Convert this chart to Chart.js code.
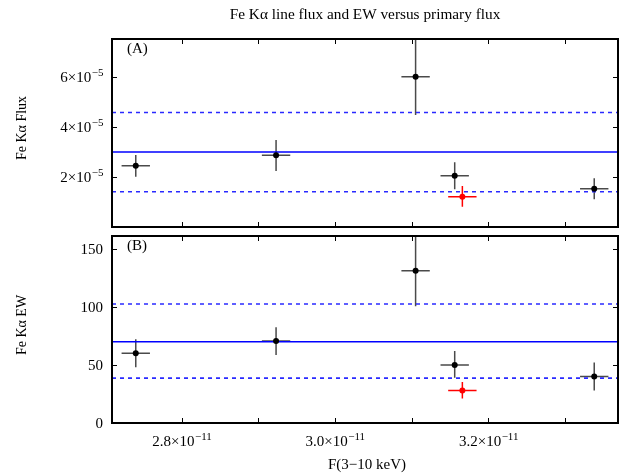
<!DOCTYPE html>
<html><head><meta charset="utf-8">
<script src="https://cdn.jsdelivr.net/npm/chart.js@4"></script>
<style>
html,body{margin:0;padding:0;background:#fff;}
#wrap{position:relative;width:633px;height:476px;overflow:hidden;}
canvas{position:absolute;left:0;}
</style>
</head><body>
<div id="wrap">
<canvas id="c1" width="633" height="232" style="top:0"></canvas>
<canvas id="c2" width="633" height="244" style="top:232px"></canvas>
</div>
<script>
// ---- data ----
const xVals   = [2.740e-11, 2.923e-11, 3.105e-11, 3.156e-11, 3.338e-11];
const xErr    = [0.0185e-11, 0.0185e-11, 0.0185e-11, 0.0185e-11, 0.0185e-11];
const fluxVals = [2.45e-5, 2.87e-5, 6.01e-5, 2.05e-5, 1.53e-5];
const fluxLow  = [2.01e-5, 2.24e-5, 4.48e-5, 1.51e-5, 1.11e-5];
const fluxHigh = [2.88e-5, 3.48e-5, 7.54e-5, 2.59e-5, 1.95e-5];
const ewVals  = [60, 70.5, 131, 50, 40];
const ewLow   = [48, 58.5, 100.5, 39, 28];
const ewHigh  = [72, 82.5, 161.5, 62, 52];
const redX     = [3.166e-11];
const redXErr  = [0.0185e-11];
const redFlux  = [1.21e-5];
const redFluxLow  = [0.81e-5];
const redFluxHigh = [1.64e-5];
const redEw    = [28];
const redEwLow = [21];
const redEwHigh= [35.2];
const fluxMean = 3.0e-5;
const fluxBand = [1.41e-5, 4.58e-5];
const ewMean = 70;
const ewBand = [38.6, 102.5];
const xRange = [2.709e-11, 3.369e-11];
const xTicks = [2.8e-11, 2.9e-11, 3.0e-11, 3.1e-11, 3.2e-11, 3.3e-11];
const xTickLabels = [[2.8e-11, '2.8', '\u221211'], [3.0e-11, '3.0', '\u221211'], [3.2e-11, '3.2', '\u221211']];
const fluxTicks = [2e-5, 4e-5, 6e-5];
const fluxTickLabels = [[2e-5, '2', '\u22125'], [4e-5, '4', '\u22125'], [6e-5, '6', '\u22125']];
const ewTicks = [0, 50, 100, 150];
const ewTickLabels = [[0, '0'], [50, '50'], [100, '100'], [150, '150']];

const SERIF = '"Liberation Serif", "DejaVu Serif", serif';
const MAINF = '15px ' + SERIF;
const EXPF = '11px ' + SERIF;

function drawSci(ctx, mant, exp, x, y, align) {
  // y = vertical centre of main text
  ctx.font = MAINF;
  const main = exp ? mant + '\u00d710' : mant;
  const w1 = ctx.measureText(main).width;
  let w2 = 0;
  if (exp) { ctx.font = EXPF; w2 = ctx.measureText(exp).width; }
  const tot = w1 + w2;
  let sx = align === 'right' ? x - tot : x - tot / 2;
  ctx.textAlign = 'left';
  ctx.textBaseline = 'alphabetic';
  ctx.font = MAINF;
  ctx.fillText(main, sx, y + 5);
  if (exp) { ctx.font = EXPF; ctx.fillText(exp, sx + w1 + 0.5, y - 1.5); }
}

function lineDs(v, dashed) {
  return {
    data: [{x: xRange[0], y: v}, {x: xRange[1], y: v}],
    showLine: true, borderColor: dashed ? '#2a2aff' : '#0000ff', borderWidth: dashed ? 1.6 : 1.4,
    borderDash: dashed ? [4, 4] : [], pointRadius: 0, order: 3
  };
}

function errPlugin(sets) {
  return {
    id: 'err',
    beforeDatasetsDraw(chart) {
      const {ctx, chartArea: a, scales: {x, y}} = chart;
      ctx.save();
      ctx.beginPath(); ctx.rect(a.left, a.top, a.right - a.left, a.bottom - a.top); ctx.clip();
      sets.forEach(s => {
        ctx.strokeStyle = s.color; ctx.lineWidth = 1.5;
        s.x.forEach((xv, i) => {
          const px = x.getPixelForValue(xv), py = y.getPixelForValue(s.y[i]);
          ctx.beginPath();
          ctx.moveTo(x.getPixelForValue(xv - s.xe[i]), py);
          ctx.lineTo(x.getPixelForValue(xv + s.xe[i]), py);
          ctx.moveTo(px, y.getPixelForValue(s.lo[i]));
          ctx.lineTo(px, y.getPixelForValue(s.hi[i]));
          ctx.stroke();
        });
      });
      ctx.restore();
    }
  };
}

function framePlugin(cfg) {
  return {
    id: 'frame',
    afterDatasetsDraw(chart) {
      const {ctx, chartArea: a, scales: {x, y}} = chart;
      ctx.save();
      ctx.strokeStyle = '#000'; ctx.lineWidth = 1;
      const tl = 5;
      ctx.beginPath();
      xTicks.forEach(v => {
        const px = Math.round(x.getPixelForValue(v)) + 0.5;
        ctx.moveTo(px, a.bottom); ctx.lineTo(px, a.bottom - tl);
        ctx.moveTo(px, a.top); ctx.lineTo(px, a.top + tl);
      });
      cfg.yTicks.forEach(v => {
        const py = Math.round(y.getPixelForValue(v)) + 0.5;
        ctx.moveTo(a.left, py); ctx.lineTo(a.left + tl, py);
        ctx.moveTo(a.right, py); ctx.lineTo(a.right - tl, py);
      });
      ctx.stroke();
      ctx.lineWidth = 2;
      ctx.strokeRect(a.left, a.top, a.right - a.left, a.bottom - a.top);
      ctx.fillStyle = '#000';
      cfg.yLabels.forEach(t => drawSci(ctx, t[1], t[2], a.left - 9, y.getPixelForValue(t[0]), 'right'));
      if (cfg.xLabels) cfg.xLabels.forEach(t => drawSci(ctx, t[1], t[2], x.getPixelForValue(t[0]), a.bottom + 18, 'center'));
      ctx.font = '15px ' + SERIF; ctx.textAlign = 'left'; ctx.textBaseline = 'middle';
      ctx.fillText(cfg.panel, a.left + 15, a.top + 10);
      // axis titles
      ctx.font = '14px ' + SERIF; ctx.textAlign = 'center'; ctx.textBaseline = 'middle';
      ctx.save(); ctx.translate(22, cfg.yTitleY); ctx.rotate(-Math.PI / 2);
      ctx.fillText(cfg.yTitle, 0, 0); ctx.restore();
      if (cfg.title) { ctx.font = '15.3px ' + SERIF; ctx.textBaseline = 'alphabetic'; ctx.fillText(cfg.title, (a.left + a.right) / 2, 19); }
      if (cfg.xTitle) { ctx.font = '15px ' + SERIF; ctx.textBaseline = 'alphabetic'; ctx.fillText(cfg.xTitle, (a.left + a.right) / 2 + 2, a.bottom + 46); }
      ctx.restore();
    }
  };
}

function makeChart(id, cfg) {
  return new Chart(document.getElementById(id), {
    type: 'scatter',
    data: {datasets: [
      lineDs(cfg.mean, false), lineDs(cfg.band[0], true), lineDs(cfg.band[1], true),
      {data: xVals.map((xv, i) => ({x: xv, y: cfg.vals[i]})), pointRadius: 3, backgroundColor: '#000', borderWidth: 0, order: 1},
      {data: redX.map((xv, i) => ({x: xv, y: cfg.red[i]})), pointRadius: 3, backgroundColor: '#ff0000', borderWidth: 0, order: 1}
    ]},
    options: {
      responsive: false, animation: false, devicePixelRatio: 1,
      layout: {padding: cfg.pad},
      plugins: {legend: {display: false}, tooltip: {enabled: false}, title: {display: false}},
      scales: {
        x: {type: 'linear', min: xRange[0], max: xRange[1], display: false},
        y: {type: 'linear', min: cfg.yMin, max: cfg.yMax, display: false}
      }
    },
    plugins: [errPlugin([
      {x: xVals, xe: xErr, y: cfg.vals, lo: cfg.lo, hi: cfg.hi, color: '#4a4a4a'},
      {x: redX, xe: redXErr, y: cfg.red, lo: cfg.redLo, hi: cfg.redHi, color: '#ff0000'}
    ]), framePlugin(cfg)]
  });
}

makeChart('c1', {
  vals: fluxVals, lo: fluxLow, hi: fluxHigh, red: redFlux, redLo: redFluxLow, redHi: redFluxHigh,
  mean: fluxMean, band: fluxBand, yMin: 0, yMax: 7.52e-5,
  yTicks: fluxTicks, yLabels: fluxTickLabels, panel: '(A)',
  yTitle: 'Fe K\u03b1 Flux', yTitleY: 128,
  title: 'Fe K\u03b1 line flux and EW versus primary flux',
  pad: {left: 112, right: 15, top: 39, bottom: 5}
});
makeChart('c2', {
  vals: ewVals, lo: ewLow, hi: ewHigh, red: redEw, redLo: redEwLow, redHi: redEwHigh,
  mean: ewMean, band: ewBand, yMin: 0, yMax: 161,
  yTicks: ewTicks, yLabels: ewTickLabels, xLabels: xTickLabels, panel: '(B)',
  yTitle: 'Fe K\u03b1 EW', yTitleY: 325 - 232,
  xTitle: 'F(3\u221210 keV)',
  pad: {left: 112, right: 15, top: 2, bottom: 53}
});
</script>
</body></html>
